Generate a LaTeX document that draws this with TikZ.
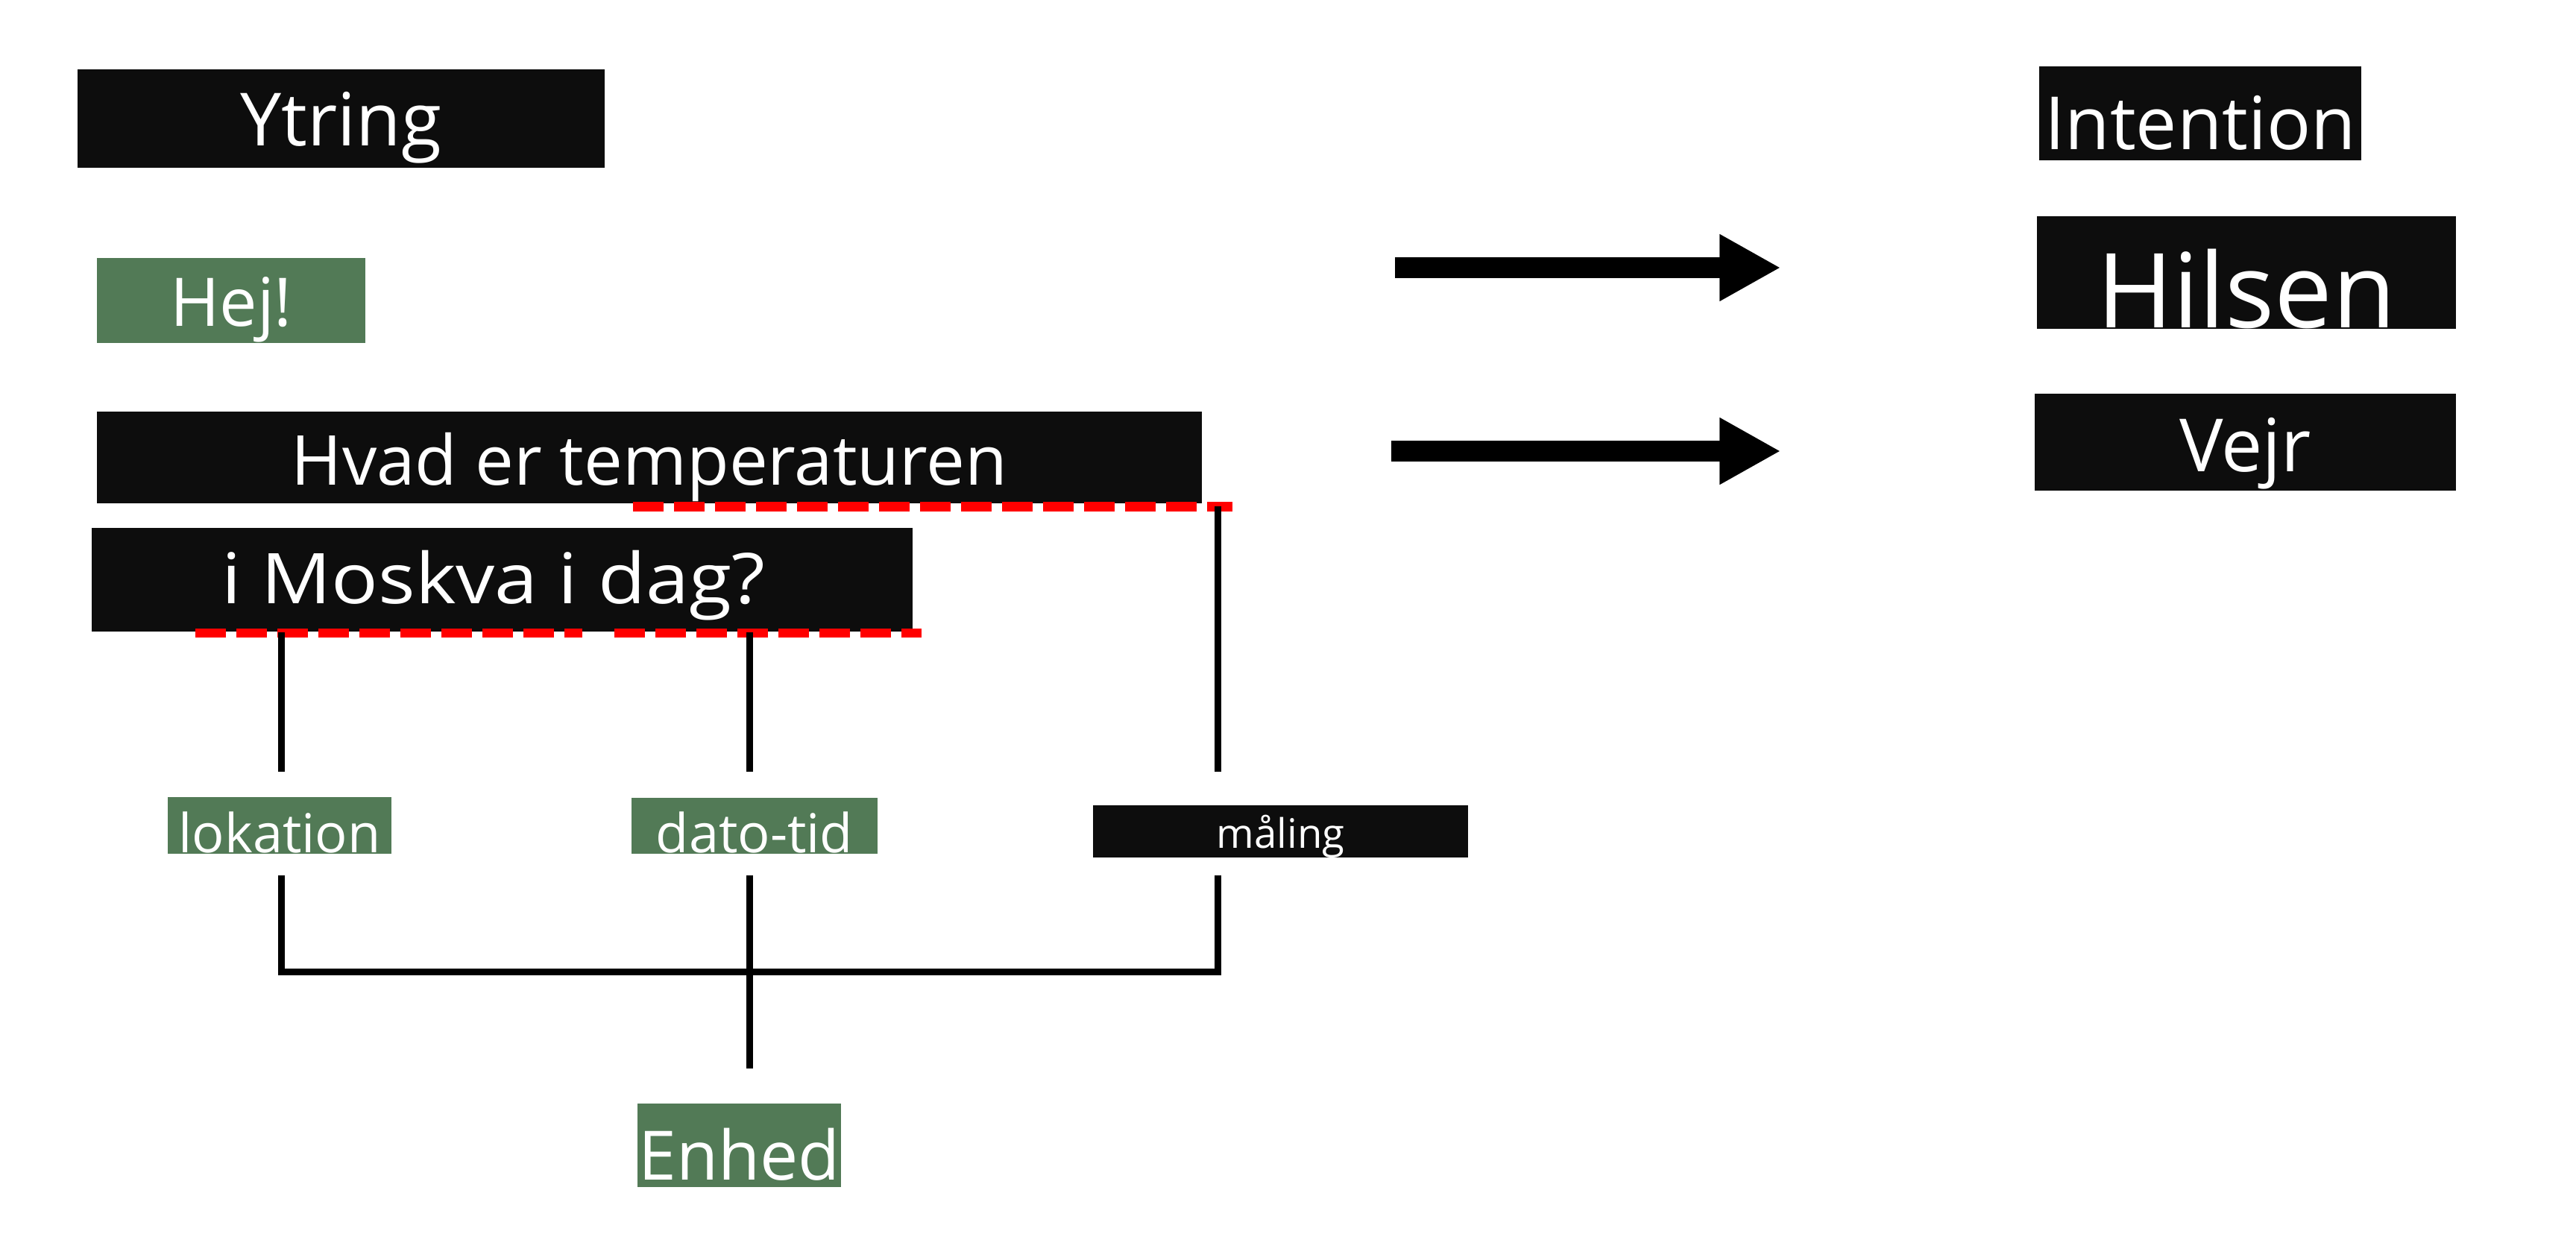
\documentclass[tikz,border=0pt]{standalone}
\usepackage{fontspec}
\setmainfont{Open Sans}
\usetikzlibrary{arrows.meta,positioning,calc}
\definecolor{cBoxF}{HTML}{0D0D0D}
\definecolor{cGreenF}{HTML}{527A56}
\definecolor{cRedL}{HTML}{FF0000}
\newcommand{\fsz}[1]{\fontsize{#1}{#1}\selectfont}
\tikzset{
  blk/.style    = {fill=cBoxF, text=white, inner sep=0pt, align=center},
  grn/.style    = {blk, fill=cGreenF},
  link/.style   = {black, line width=0.9mm},
  uline/.style  = {cRedL, line width=1.25mm, dash pattern=on 4.1mm off 1.4mm},
  bigarr/.style = {black, line width=2.8mm, -{Triangle[length=8.2mm,width=8.4mm]}},
}

\begin{document}
\begin{tikzpicture}
  \useasboundingbox (0,0) rectangle (34.55,-16.63);
  % left column: utterances
  \node[blk, minimum width=7.07cm, text height=1.03cm, text depth=0.29cm, font=\fsz{28}] (ytring) at (4.575,-1.59) {Ytring};
  \node[grn, minimum width=3.60cm, text height=0.91cm, text depth=0.23cm, font=\fsz{25.6}] (hej) at (3.10,-4.03) {Hej!};
  \node[blk, minimum width=14.82cm, text height=0.98cm, text depth=0.25cm, font=\fsz{26.3}] (hvad) at (8.71,-6.135) {Hvad er temperaturen};
  \node[blk, minimum width=11.01cm, text height=1.01cm, text depth=0.38cm, font=\fsz{26.7}] (moskva) at (6.735,-7.775) {\scalebox{1.11}[1]{i Moskva i dag?}\hspace*{0.24cm}};
  % entities
  \node[grn, minimum width=3.00cm, text height=0.74cm, text depth=0.02cm, font=\fsz{20.5}] (lokation) at (3.75,-11.07) {lokation};
  \node[grn, minimum width=3.30cm, text height=0.73cm, text depth=0.02cm, font=\fsz{20.5}] (datotid) at (10.12,-11.075) {dato-tid};
  \node[blk, minimum width=5.03cm, text height=0.57cm, text depth=0.13cm, font=\fsz{15.5}] (maaling) at (17.175,-11.15) {måling};
  \node[grn, minimum width=2.73cm, text height=1.02cm, text depth=0.10cm, font=\fsz{26}] (enhed) at (9.915,-15.36) {Enhed};
  % right column: intents
  \node[blk, minimum width=4.32cm, text height=1.12cm, text depth=0.14cm, font=\fsz{28}] (intention) at (29.51,-1.52) {Intention};
  \node[blk, minimum width=5.62cm, text height=1.49cm, text depth=0.02cm, font=\fsz{39.5}] (hilsen) at (30.13,-3.655) {Hilsen};
  \node[blk, minimum width=5.65cm, text height=1.04cm, text depth=0.26cm, font=\fsz{28}] (vejr) at (30.115,-5.93) {Vejr};
  % red underlines of the slots
  \draw[uline] (8.49,-6.795) -- (16.53,-6.795);
  \draw[uline] (2.62,-8.49) -- (7.81,-8.49);
  \draw[uline] (8.24,-8.49) -- (12.36,-8.49);
  \coordinate (u1) at (3.77,-8.48);
  \coordinate (u2) at (10.05,-8.48);
  \coordinate (m1) at (16.33,-6.79);
  \draw[link, shorten >=3.3mm] (u1) -- (u1 |- lokation.north);
  \draw[link, shorten >=3.4mm] (u2) -- (u2 |- datotid.north);
  \draw[link, shorten >=4.4mm] (m1) -- (m1 |- maaling.north);
  % joining the entities
  \coordinate (jl) at (3.77,-13.03);
  \coordinate (jm) at (10.05,-13.03);
  \coordinate (jr) at (16.33,-13.03);
  \draw[link] ([yshift=-2.8mm]jl |- lokation.south) -- (jl) -- (jr) -- ([yshift=-2.3mm]jr |- maaling.south);
  \draw[link] ([yshift=-2.8mm]jm |- datotid.south) -- ([yshift=4.6mm]jm |- enhed.north);
  % arrows to the intents
  \coordinate (a1) at (18.71,-3.59);
  \coordinate (a2) at (18.66,-6.05);
  \draw[bigarr] (a1) -- ([xshift=-3.43cm]a1 -| hilsen.west);
  \draw[bigarr] (a2) -- ([xshift=-3.40cm]a2 -| vejr.west);
\end{tikzpicture}
\end{document}
